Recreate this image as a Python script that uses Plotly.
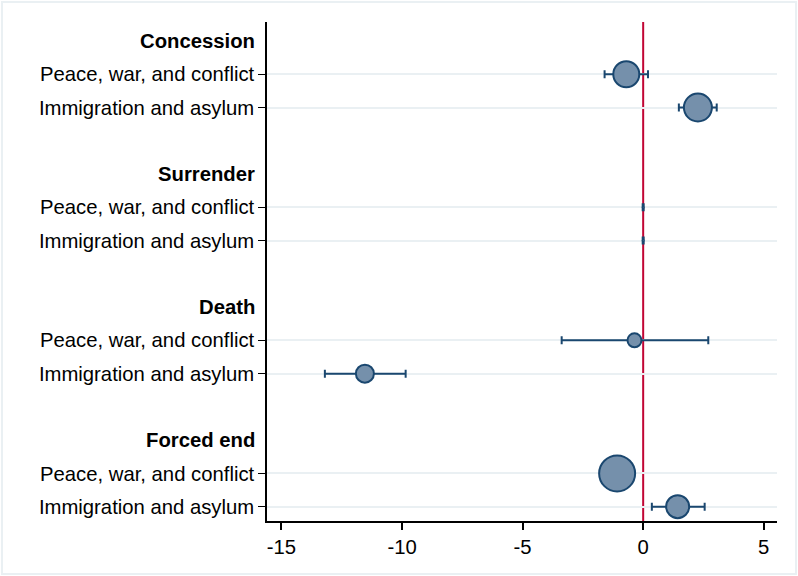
import plotly.graph_objects as go

# ---- data ----
groups = ["Concession", "Surrender", "Death", "Forced end"]
items = ["Peace, war, and conflict", "Immigration and asylum"]
estimates = [-0.70, 2.27, 0.0, 0.0, -0.36, -11.54, -1.08, 1.43]
ci_low = [-1.60, 1.48, -0.02, -0.02, -3.38, -13.20, -1.08, 0.36]
ci_high = [0.20, 3.05, 0.02, 0.02, 2.70, -9.85, -1.08, 2.55]
marker_sizes = [26, 28, 1, 1, 14, 18, 36, 23]
x_ticks = [-15, -10, -5, 0, 5]

# ---- layout of rows (header + items + blank per group) ----
header_pos = []
item_pos = []
item_labels = []
slot = 0
for g in groups:
    header_pos.append(slot)
    slot += 1
    for it in items:
        item_pos.append(slot)
        item_labels.append(it)
        slot += 1
    slot += 1

navy = "#1A476F"
fill = "#7590AB"
red = "#C10534"
grid = "#EAF0F3"
font = "Liberation Sans, Arial, sans-serif"
fs = 20.3

err_plus = [h - e for h, e in zip(ci_high, estimates)]
err_minus = [e - l for e, l in zip(estimates, ci_low)]

fig = go.Figure()
fig.add_trace(go.Scatter(
    x=estimates, y=item_pos, mode="markers",
    marker=dict(size=marker_sizes, color=fill, opacity=1, line=dict(color=navy, width=2)),
    error_x=dict(type="data", symmetric=False, array=err_plus, arrayminus=err_minus,
                 color=navy, thickness=2, width=4),
    showlegend=False, hoverinfo="x+y",
))

fig.add_shape(type="line", xref="x", yref="paper", x0=0, x1=0, y0=0, y1=1,
              line=dict(color=red, width=2), layer="below")

# outer light border
L, R, T, B = 267, 21, 22, 55
W, H = 798, 576
pw, ph = W - L - R, H - T - B
fig.add_shape(type="rect", xref="paper", yref="paper",
              x0=(2 - L) / pw, x1=(W - 2 - L) / pw,
              y0=-(B - 2) / ph, y1=1 + (T - 2) / ph,
              line=dict(color=grid, width=2), fillcolor="rgba(0,0,0,0)", layer="below")

for g, p in zip(groups, header_pos):
    fig.add_annotation(x=0, xref="paper", xanchor="right", xshift=-10,
                       y=p, yref="y", yanchor="middle", text="<b>" + g + "</b>",
                       showarrow=False, font=dict(size=fs, color="black", family=font))

fig.update_layout(
    width=W, height=H,
    margin=dict(l=L, r=R, t=T, b=B, autoexpand=False),
    plot_bgcolor="white", paper_bgcolor="white",
    font=dict(family=font, size=fs, color="black"),
    xaxis=dict(range=[-15.6, 5.55], tickvals=x_ticks, ticktext=[str(v) for v in x_ticks],
               showgrid=False, zeroline=False, showline=True, linecolor="black", linewidth=1.5,
               ticks="outside", ticklen=7, tickcolor="black", tickwidth=1.5,
               tickfont=dict(size=fs), automargin=False),
    yaxis=dict(range=[14.43, -0.57], tickvals=item_pos, ticktext=item_labels,
               showgrid=True, gridcolor=grid, gridwidth=2, zeroline=False,
               showline=True, linecolor="black", linewidth=1.5,
               ticks="outside", ticklen=7, tickcolor="black", tickwidth=1,
               tickfont=dict(size=fs), automargin=False),
)

fig.write_html("out.html", config={"displayModeBar": False},
               post_script="document.body.style.margin='0';document.body.style.padding='0';")
